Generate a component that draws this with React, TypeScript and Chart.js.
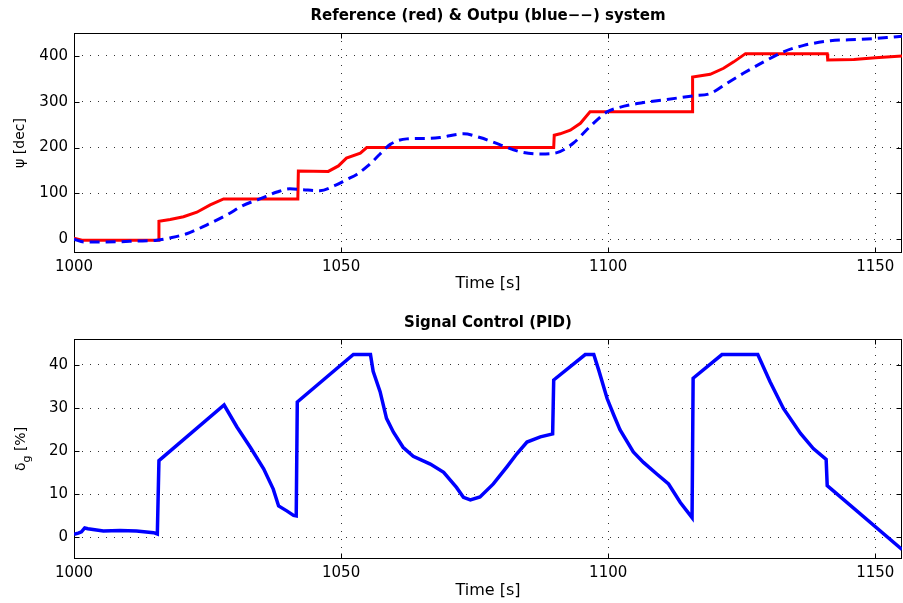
import React, { useEffect, useRef } from 'react';
import { Chart, registerables } from 'chart.js';

Chart.register(...registerables);

// ---------- data ----------
const xTicks = [1000, 1050, 1100, 1150];
const psiTicks = [0, 100, 200, 300, 400];
const deltaTicks = [0, 10, 20, 30, 40];

// Reference (red)
const refTime = [1000, 1001.5, 1015.8, 1015.9, 1018, 1020.5, 1023, 1025.5, 1028, 1041.9, 1042, 1047.6, 1049.5, 1051, 1053.6, 1054.8, 1089.8, 1089.9, 1091, 1092.9, 1094.8, 1096.6, 1115.7, 1115.8, 1119.1, 1121.6, 1123.5, 1125.7, 1141, 1141.1, 1146, 1150, 1155];
const refPsi = [2, -2, -2, 39, 43, 49, 59, 75, 88, 88, 149, 148, 160, 177, 188, 200, 200, 227, 230, 238, 253, 278, 278, 354, 360, 373, 387, 405, 405, 391, 392, 396, 400];

// Output (blue dashed)
const outTime = [1000, 1002, 1006, 1011.7, 1015.5, 1018, 1021.1, 1024.8, 1028.6, 1031.7, 1034.8, 1038, 1040.4, 1042.9, 1046, 1049, 1051, 1053, 1055, 1057.3, 1059.2, 1062.3, 1066, 1068.5, 1072.9, 1076, 1079.8, 1083.5, 1087.3, 1090.4, 1093.5, 1096.6, 1099.8, 1101.6, 1105.4, 1111, 1116, 1119.1, 1122.2, 1125.3, 1129.1, 1132.8, 1136.6, 1141.6, 1147.2, 1152.2, 1155];
const outPsi = [0, -6, -6, -4, -2, 3, 12, 31, 53, 74, 88, 103, 110, 108, 106, 118, 130, 142, 160, 186, 207, 219, 220, 222, 230, 222, 206, 191, 186, 189, 210, 246, 278, 286, 296, 305, 313, 318, 340, 362, 387, 409, 423, 433, 436, 440, 443];

// PID control signal
const pidTime = [1000, 1000.8, 1001.4, 1002, 1002.6, 1005.5, 1008.6, 1011.7, 1014.9, 1015.6, 1015.9, 1028.1, 1030.5, 1033, 1035.5, 1037.3, 1038.3, 1039.9, 1041.1, 1041.6, 1041.8, 1052.3, 1055.5, 1056, 1057.3, 1058.5, 1059.8, 1061.6, 1063.5, 1066.7, 1069.2, 1071.6, 1072.9, 1074.2, 1076, 1078.5, 1081, 1082.9, 1084.8, 1087.3, 1089.6, 1089.8, 1095.7, 1097.3, 1098.2, 1099.8, 1101, 1102.2, 1104.7, 1106.6, 1109.1, 1111.3, 1113.5, 1115.7, 1115.9, 1121.3, 1128, 1130.3, 1132.8, 1136, 1138.4, 1140.8, 1141, 1155];
const pidDelta = [0.7, 1, 1.3, 2.2, 2, 1.5, 1.6, 1.5, 1.1, 0.8, 17.8, 30.7, 25.6, 20.9, 15.9, 11.2, 7.3, 6.1, 5.1, 5, 31.4, 42.4, 42.4, 38.5, 33.8, 27.6, 24.4, 20.9, 18.8, 17, 15.1, 11.6, 9.3, 8.7, 9.4, 12.4, 16.3, 19.4, 22.1, 23.3, 24, 36.5, 42.4, 42.4, 38.9, 32.2, 28.5, 25, 19.8, 17.4, 14.7, 12.4, 8.1, 4.6, 36.9, 42.4, 42.4, 36.1, 29.9, 24.1, 20.6, 18.1, 12, -2.8];

const FAMILY = '"DejaVu Sans", "Liberation Sans", sans-serif';
const GRID = 'rgba(0,0,0,0.8)';

const toPoints = (xs: number[], ys: number[]) => xs.map((x, i) => ({ x, y: ys[i] }));

// Box frame + inward tick marks (MATLAB style)
const framePlugin = {
  id: 'frame',
  beforeDatasetsDraw(chart: any) {
    const { ctx, chartArea } = chart;
    const L = Math.round(chartArea.left) + 0.5;
    const R = Math.round(chartArea.right) - 0.5;
    const T = Math.round(chartArea.top) + 0.5;
    const B = Math.round(chartArea.bottom) - 0.5;
    ctx.save();
    ctx.setLineDash([]);
    ctx.strokeStyle = '#000';
    ctx.lineWidth = 1;
    ctx.strokeRect(L, T, R - L, B - T);
    const tl = 5;
    ctx.beginPath();
    const xs = chart.scales.x;
    xs.ticks.forEach((t: any) => {
      const p = Math.round(xs.getPixelForValue(t.value)) + 0.5;
      ctx.moveTo(p, B); ctx.lineTo(p, B - tl);
      ctx.moveTo(p, T); ctx.lineTo(p, T + tl);
    });
    const ys = chart.scales.y;
    ys.ticks.forEach((t: any) => {
      const p = Math.round(ys.getPixelForValue(t.value)) + 0.5;
      ctx.moveTo(L, p); ctx.lineTo(L + tl, p);
      ctx.moveTo(R, p); ctx.lineTo(R - tl, p);
    });
    ctx.stroke();
    ctx.restore();
  },
};

// y-axis label with subscript: δ_g [%]
const deltaLabelPlugin = {
  id: 'deltaLabel',
  afterDraw(chart: any) {
    const { ctx, chartArea } = chart;
    const cy = (chartArea.top + chartArea.bottom) / 2;
    const main = `14px ${FAMILY}`;
    const sub = `11px ${FAMILY}`;
    ctx.save();
    ctx.translate(21.5, cy);
    ctx.rotate(-Math.PI / 2);
    ctx.fillStyle = '#000';
    ctx.textBaseline = 'middle';
    ctx.textAlign = 'left';
    ctx.font = main;
    const w1 = ctx.measureText('δ').width;
    const w3 = ctx.measureText(' [%]').width;
    ctx.font = sub;
    const w2 = ctx.measureText('g').width;
    let x = -(w1 + w2 + w3) / 2;
    ctx.font = main;
    ctx.fillText('δ', x, 0);
    x += w1;
    ctx.font = sub;
    ctx.fillText('g', x, 6);
    x += w2;
    ctx.font = main;
    ctx.fillText(' [%]', x, 0);
    ctx.restore();
  },
};

function xAxis(height: number, titlePadBottom: number) {
  return {
    type: 'linear',
    min: 1000,
    max: 1155,
    afterBuildTicks: (s: any) => { s.ticks = xTicks.map((value) => ({ value })); },
    afterFit: (s: any) => { s.height = height; },
    grid: { color: GRID, lineWidth: 1, drawTicks: false },
    border: { display: false, dash: [1, 7] },
    ticks: {
      color: '#000',
      font: { family: FAMILY, size: 15 },
      padding: 5,
      maxRotation: 0,
      autoSkip: false,
      callback: (v: any) => String(v),
    },
    title: {
      display: true,
      text: 'Time [s]',
      color: '#000',
      font: { family: FAMILY, size: 16 },
      padding: { top: 0, bottom: titlePadBottom },
    },
  };
}

function yAxis(min: number, max: number, ticks: number[], title: any) {
  return {
    type: 'linear',
    min,
    max,
    afterBuildTicks: (s: any) => { s.ticks = ticks.map((value) => ({ value })); },
    afterFit: (s: any) => { s.width = 74; },
    grid: { color: GRID, lineWidth: 1, drawTicks: false },
    border: { display: false, dash: [1, 7] },
    ticks: {
      color: '#000',
      font: { family: FAMILY, size: 15 },
      padding: 6,
      callback: (v: any) => String(v),
    },
    title,
  };
}

export default function App() {
  const topRef = useRef<HTMLCanvasElement>(null);
  const botRef = useRef<HTMLCanvasElement>(null);

  useEffect(() => {
    const top = new Chart(topRef.current as HTMLCanvasElement, {
      type: 'line',
      data: {
        datasets: [
          {
            label: 'Output',
            data: toPoints(outTime, outPsi),
            borderColor: '#0000ff',
            borderWidth: 3,
            borderDash: [10, 6],
            pointRadius: 0,
            fill: false,
            cubicInterpolationMode: 'monotone',
          },
          {
            label: 'Reference',
            data: toPoints(refTime, refPsi),
            borderColor: '#ff0000',
            borderWidth: 3,
            pointRadius: 0,
            fill: false,
            tension: 0,
          },
        ],
      },
      options: {
        responsive: false,
        animation: false,
        layout: { padding: { left: 0, right: 1, top: 0, bottom: 0 } },
        plugins: {
          legend: { display: false },
          tooltip: { enabled: false },
          title: {
            display: true,
            text: 'Reference (red) & Outpu (blue−−) system',
            fullSize: false,
            color: '#000',
            font: { family: FAMILY, size: 15, weight: 'bold', lineHeight: 1.2 },
            padding: { top: 7, bottom: 8 },
          },
        },
        scales: {
          x: xAxis(47, 7),
          y: yAxis(-30, 450, psiTicks, {
            display: true,
            text: 'ψ [dec]',
            color: '#000',
            font: { family: FAMILY, size: 14 },
            padding: { top: 12, bottom: 0 },
          }),
        },
      } as any,
      plugins: [framePlugin],
    } as any);

    const bot = new Chart(botRef.current as HTMLCanvasElement, {
      type: 'line',
      data: {
        datasets: [
          {
            label: 'PID',
            data: toPoints(pidTime, pidDelta),
            borderColor: '#0000ff',
            borderWidth: 3.5,
            pointRadius: 0,
            fill: false,
            tension: 0,
          },
        ],
      },
      options: {
        responsive: false,
        animation: false,
        layout: { padding: { left: 0, right: 1, top: 0, bottom: 0 } },
        plugins: {
          legend: { display: false },
          tooltip: { enabled: false },
          title: {
            display: true,
            text: 'Signal Control (PID)',
            fullSize: false,
            color: '#000',
            font: { family: FAMILY, size: 15, weight: 'bold', lineHeight: 1.2 },
            padding: { top: 14, bottom: 7 },
          },
        },
        scales: {
          x: xAxis(44, 3),
          y: yAxis(-5, 46, deltaTicks, { display: false }),
        },
      } as any,
      plugins: [framePlugin, deltaLabelPlugin],
    } as any);

    return () => {
      top.destroy();
      bot.destroy();
    };
  }, []);

  return (
    <div style={{ position: 'absolute', left: 0, top: 0, width: 903, height: 603, background: '#fff' }}>
      <canvas ref={topRef} width={903} height={300} style={{ display: 'block' }} />
      <canvas ref={botRef} width={903} height={303} style={{ display: 'block' }} />
    </div>
  );
}
